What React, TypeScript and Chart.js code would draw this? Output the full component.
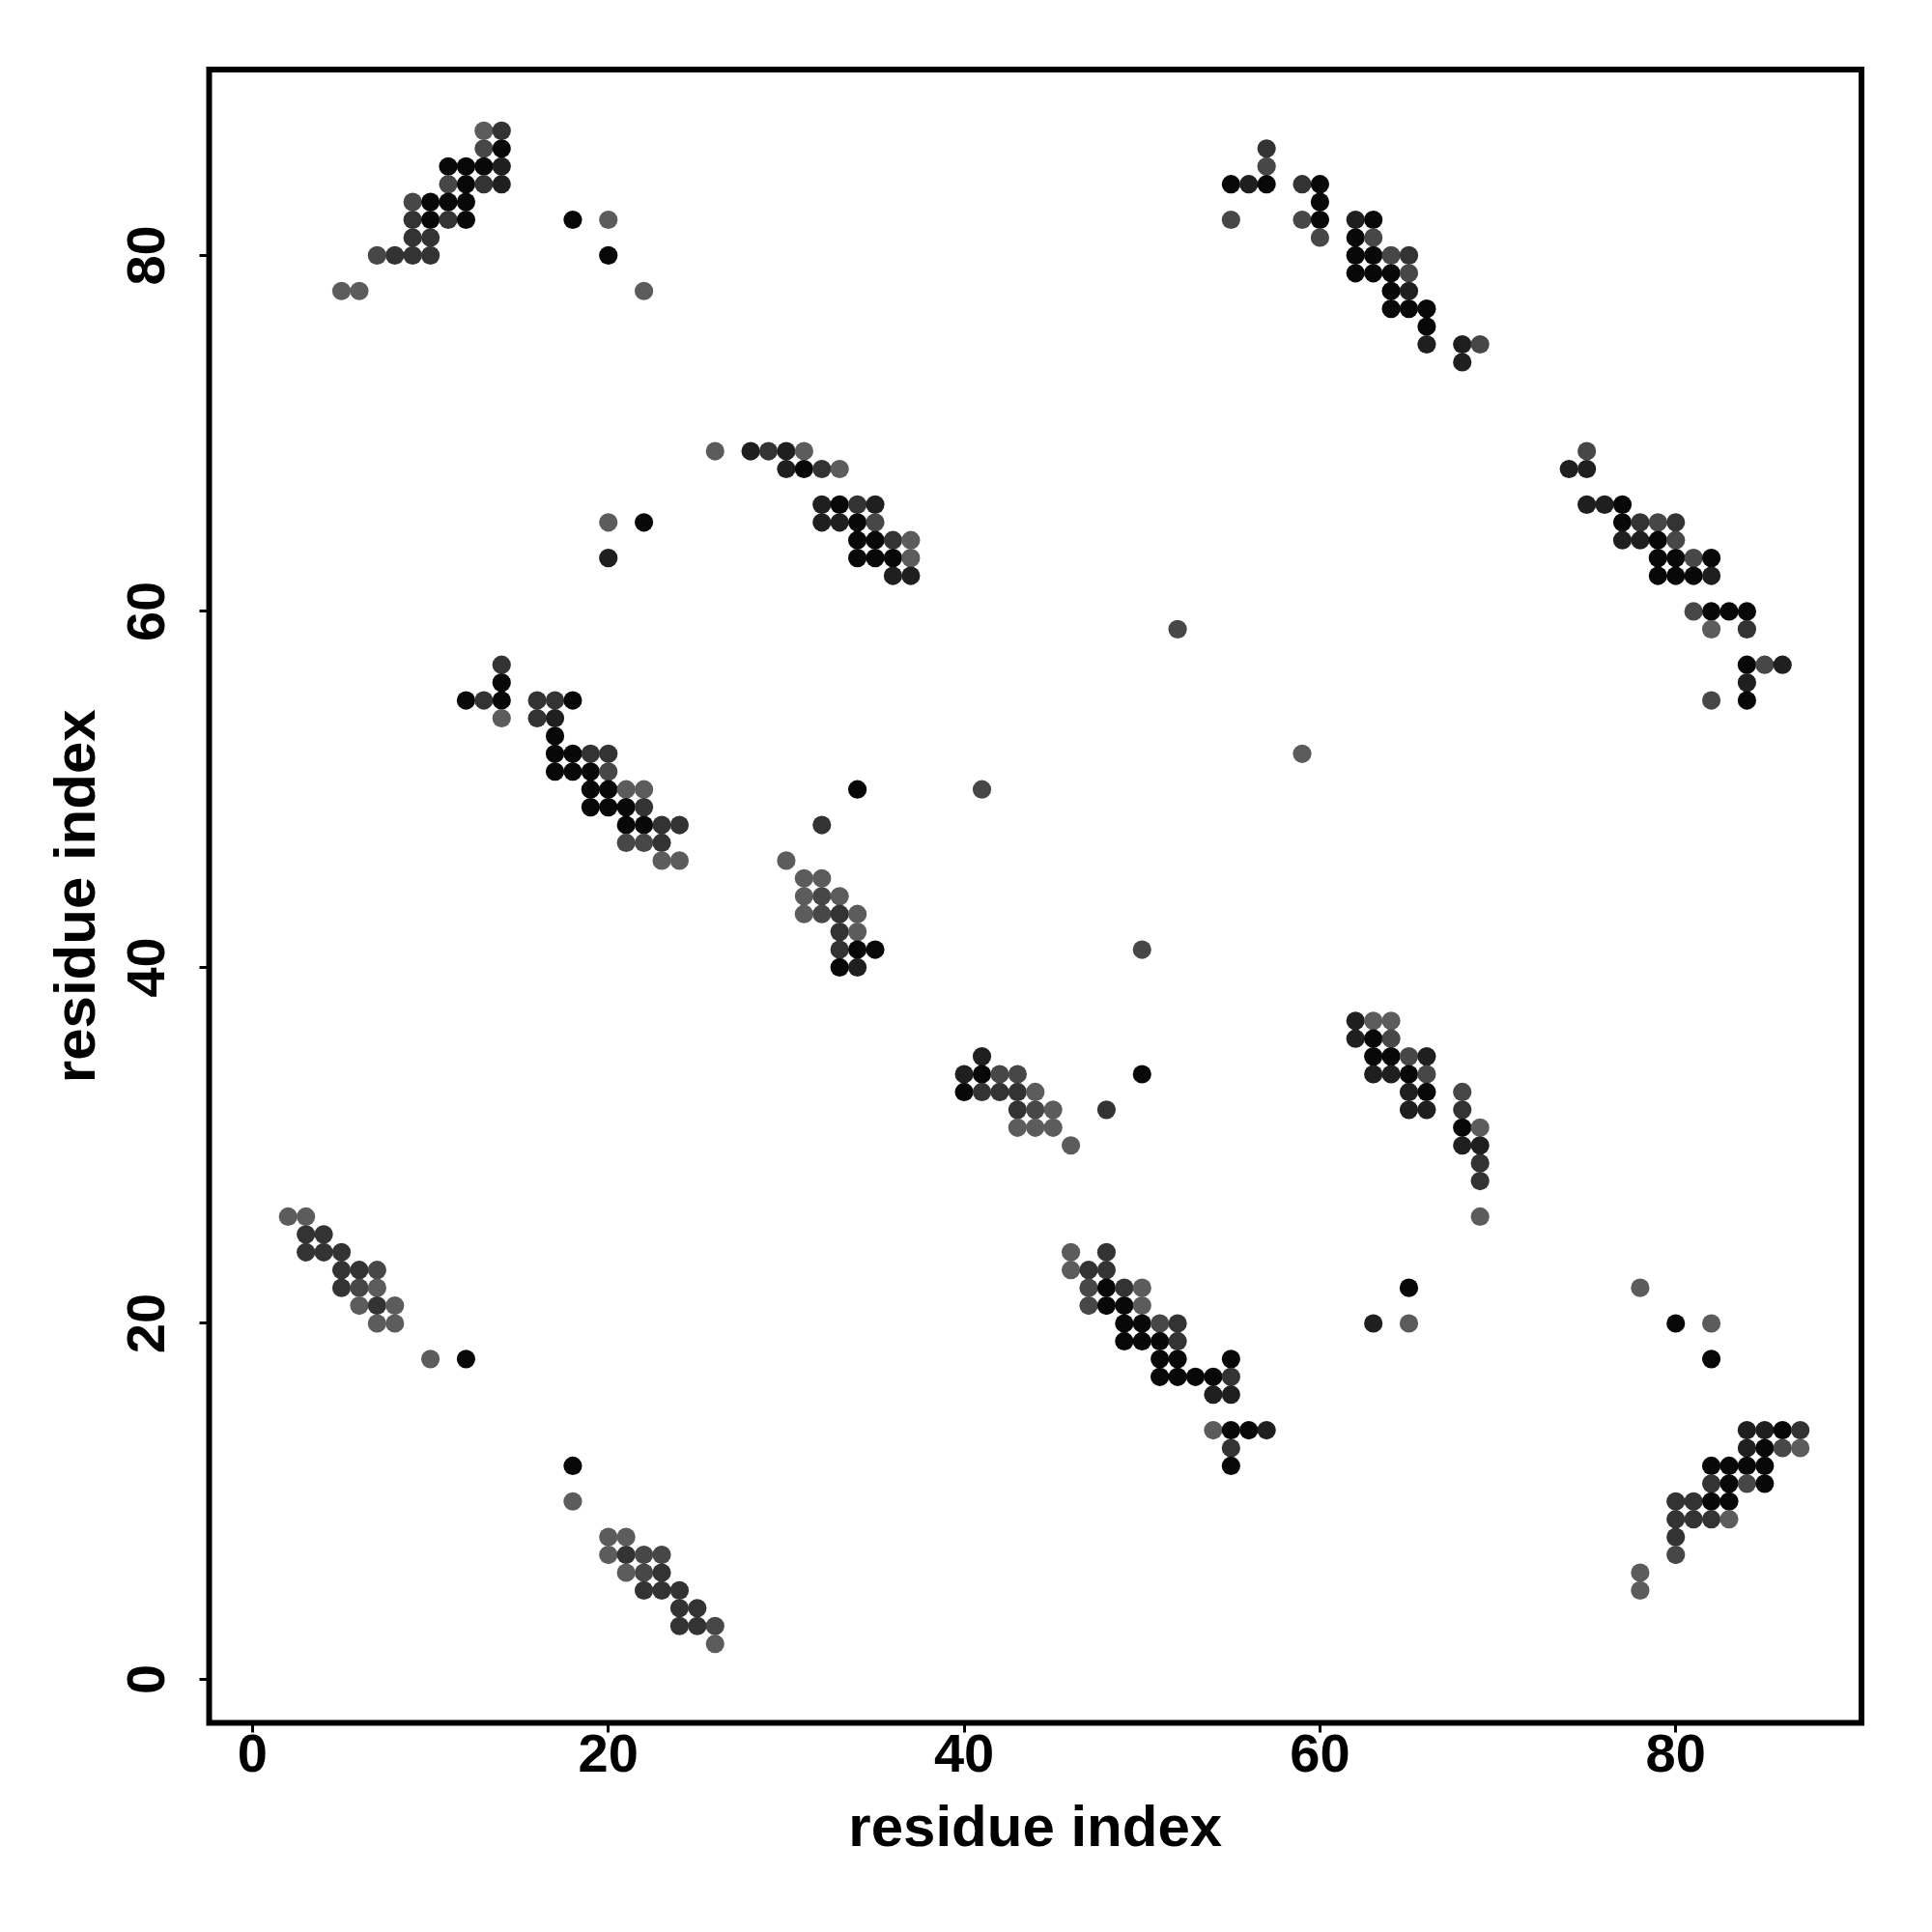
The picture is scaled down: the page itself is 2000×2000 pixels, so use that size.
import React, { useEffect, useRef } from 'react';
import { Chart, registerables } from 'chart.js';

Chart.register(...registerables);

// Contact map: residue i (x), residue j (y), contact level (0 = darkest ... 4 = lightest)
const residueX = [
  13, 14, 13, 14, 11, 12, 13, 14, 11, 12, 13, 14, 9, 10, 11, 12, 9, 10, 11, 12, 18, 20, 9, 10, 7, 8, 9, 10, 20, 5, 6, 22,
  57, 57, 55, 56, 57, 59, 60, 60, 55, 59, 60, 62, 63, 60, 62, 63, 62, 63, 64, 65, 62, 63, 64, 65, 64, 65, 64, 65, 66, 66, 66, 68, 69, 68,
  26, 28, 29, 30, 31, 30, 31, 32, 33, 32, 33, 34, 35, 20, 22, 32, 33, 34, 35, 34, 35, 36, 37, 20, 34, 35, 36, 37, 36, 37,
  75, 74, 75, 75, 76, 77, 77, 78, 79, 80, 77, 78, 79, 80, 79, 80, 81, 82, 79, 80, 81, 82, 81, 82, 83, 84, 82, 84, 84, 85, 86, 84, 82, 84,
  52, 59,
  14, 14, 12, 13, 14, 16, 17, 18, 14, 16, 17, 17, 17, 18, 19, 20, 17, 18, 19, 20, 19, 20, 21, 22, 19, 20, 21, 22, 21, 22, 23, 24, 21, 22, 23, 23, 24,
  34, 41, 32, 30, 31, 32, 31, 32, 33, 31, 32, 33, 34, 33, 34, 33, 34, 35, 50, 33, 34, 41, 40, 41, 42, 43, 50, 40, 41, 42, 43, 44, 43, 44, 45, 48, 43, 44, 45, 46,
  62, 63, 64, 62, 63, 64, 63, 64, 65, 66, 63, 64, 65, 66, 65, 66, 68, 65, 66, 68, 68, 69, 68, 69, 69, 69, 69,
  2, 3, 3, 4, 3, 4, 5, 5, 6, 7, 5, 6, 7, 6, 7, 8, 7, 8, 10, 12, 18, 18, 20, 21, 20, 21, 22, 23, 21, 22, 23, 22, 23, 24, 24, 25, 24, 25, 26, 26,
  46, 48, 46, 47, 48, 47, 48, 49, 50, 47, 48, 49, 50, 49, 50, 51, 52, 49, 50, 51, 52, 51, 52, 55, 51, 52, 53, 54, 55, 54, 55, 54, 55, 56, 57, 55, 55,
  63, 65, 65,
  78, 80, 82, 82, 84, 85, 86, 87, 84, 85, 86, 87, 82, 83, 84, 85, 82, 83, 84, 85, 80, 81, 82, 83, 80, 81, 82, 83, 80, 80, 78, 78,
];

const residueY = [
  87, 87, 86, 86, 85, 85, 85, 85, 84, 84, 84, 84, 83, 83, 83, 83, 82, 82, 82, 82, 82, 82, 81, 81, 80, 80, 80, 80, 80, 78, 78, 78,
  86, 85, 84, 84, 84, 84, 84, 83, 82, 82, 82, 82, 82, 81, 81, 81, 80, 80, 80, 80, 79, 79, 79, 79, 78, 78, 77, 77, 77, 76, 75, 75, 75, 74,
  69, 69, 69, 69, 69, 68, 68, 68, 68, 66, 66, 66, 66, 65, 65, 65, 65, 65, 65, 64, 64, 64, 64, 63, 63, 63, 63, 63, 62, 62,
  69, 68, 68, 66, 66, 66, 65, 65, 65, 65, 64, 64, 64, 64, 63, 63, 63, 63, 62, 62, 62, 62, 60, 60, 60, 60, 59, 59, 57, 57, 57, 56, 55, 55,
  59, 52,
  57, 56, 55, 55, 55, 55, 55, 55, 54, 54, 54, 53, 52, 52, 52, 52, 51, 51, 51, 51, 50, 50, 50, 50, 49, 49, 49, 49, 48, 48, 48, 48, 47, 47, 47, 46, 46,
  50, 50, 48, 46, 45, 45, 44, 44, 44, 43, 43, 43, 43, 42, 42, 41, 41, 41, 41, 40, 40, 35, 34, 34, 34, 34, 34, 33, 33, 33, 33, 33, 32, 32, 32, 32, 31, 31, 31, 30,
  37, 37, 37, 36, 36, 36, 35, 35, 35, 35, 34, 34, 34, 34, 33, 33, 33, 32, 32, 32, 31, 31, 30, 30, 29, 28, 26,
  26, 26, 25, 25, 24, 24, 24, 23, 23, 23, 22, 22, 22, 21, 21, 21, 20, 20, 18, 18, 12, 10, 8, 8, 7, 7, 7, 7, 6, 6, 6, 5, 5, 5, 4, 4, 3, 3, 3, 2,
  24, 24, 23, 23, 23, 22, 22, 22, 22, 21, 21, 21, 21, 20, 20, 20, 20, 19, 19, 19, 19, 18, 18, 18, 17, 17, 17, 17, 17, 16, 16, 14, 14, 14, 14, 13, 12,
  20, 22, 20,
  22, 20, 20, 18, 14, 14, 14, 14, 13, 13, 13, 13, 12, 12, 12, 12, 11, 11, 11, 11, 10, 10, 10, 10, 9, 9, 9, 9, 8, 7, 6, 5,
];

const contactLevel = [
  4, 2, 3, 0, 0, 0, 0, 1, 3, 0, 2, 1, 3, 0, 0, 0, 2, 0, 2, 0, 0, 4, 2, 2, 3, 2, 2, 2, 0, 4, 4, 4,
  2, 3, 0, 1, 0, 2, 0, 0, 3, 3, 0, 1, 0, 3, 0, 3, 0, 0, 3, 2, 0, 0, 0, 3, 0, 1, 0, 0, 0, 0, 1, 1, 3, 1,
  4, 1, 2, 1, 4, 1, 0, 2, 4, 1, 0, 2, 1, 4, 0, 1, 1, 0, 3, 0, 0, 2, 4, 1, 0, 0, 0, 4, 1, 1,
  3, 1, 1, 1, 1, 0, 0, 2, 3, 2, 1, 1, 0, 3, 0, 0, 3, 0, 0, 0, 0, 1, 3, 0, 0, 0, 4, 2, 0, 3, 1, 1, 3, 0,
  3, 4,
  2, 0, 0, 2, 0, 2, 2, 0, 4, 2, 1, 0, 0, 0, 2, 2, 0, 0, 0, 3, 0, 0, 4, 4, 0, 0, 0, 2, 0, 0, 2, 2, 3, 3, 2, 4, 4,
  0, 3, 2, 4, 4, 4, 4, 3, 4, 4, 3, 2, 4, 2, 4, 2, 0, 0, 3, 0, 1, 1, 1, 0, 3, 3, 0, 0, 2, 2, 2, 4, 2, 3, 4, 2, 4, 4, 4, 4,
  1, 4, 4, 1, 0, 3, 0, 0, 3, 1, 1, 1, 0, 3, 1, 0, 3, 1, 1, 2, 0, 4, 1, 1, 2, 2, 4,
  4, 4, 2, 2, 2, 2, 2, 2, 2, 3, 2, 3, 4, 4, 2, 4, 4, 4, 4, 0, 0, 4, 4, 4, 4, 2, 3, 3, 4, 3, 2, 2, 2, 2, 2, 2, 2, 2, 3, 4,
  4, 2, 4, 2, 2, 3, 0, 2, 4, 3, 0, 0, 4, 0, 0, 3, 2, 0, 0, 0, 2, 0, 0, 0, 0, 0, 0, 0, 2, 1, 1, 4, 0, 0, 1, 2, 0,
  1, 0, 4,
  4, 0, 4, 0, 1, 1, 0, 2, 1, 0, 3, 4, 0, 0, 0, 0, 2, 0, 3, 0, 2, 2, 0, 0, 2, 2, 2, 4, 2, 3, 4, 4,
];

const levelGrays = ['#080808', '#1f1f1f', '#333333', '#474747', '#5c5c5c'];
const tickValues = [0, 20, 40, 60, 80];
const axisTitle = 'residue index';
const axisMin = -2.44;
const axisMax = 90.44;

const FONT = "'Liberation Sans', Arial, Helvetica, sans-serif";

export default function App() {
  const ref = useRef<HTMLCanvasElement | null>(null);

  useEffect(() => {
    const canvas = ref.current;
    if (!canvas) return;

    const boxPlugin = {
      id: 'boxAndYLabels',
      afterDraw(chart: any) {
        const { ctx, chartArea: a } = chart;
        ctx.save();
        ctx.strokeStyle = '#000';
        ctx.lineWidth = 6;
        ctx.strokeRect(a.left, a.top, a.right - a.left, a.bottom - a.top);
        const ys = chart.scales.y;
        ctx.fillStyle = '#000';
        ctx.font = `bold 56px ${FONT}`;
        ctx.textAlign = 'center';
        ctx.textBaseline = 'alphabetic';
        for (const v of tickValues) {
          const py = ys.getPixelForValue(v);
          ctx.save();
          ctx.translate(170, py);
          ctx.rotate(-Math.PI / 2);
          ctx.fillText(String(v), 0, 0);
          ctx.restore();
        }
        ctx.restore();
      },
    };

    const chart = new Chart(canvas, {
      type: 'scatter',
      data: {
        datasets: [
          {
            data: residueX.map((x, i) => ({ x, y: residueY[i] })),
            backgroundColor: contactLevel.map((l) => levelGrays[l]),
            pointBackgroundColor: contactLevel.map((l) => levelGrays[l]),
            pointRadius: 9.6,
            pointHoverRadius: 9.6,
            pointBorderWidth: 0,
            borderWidth: 0,
          },
        ],
      },
      options: {
        animation: false,
        responsive: false,
        devicePixelRatio: 1,
        events: [],
        layout: { padding: { top: 72, right: 73, left: 0, bottom: 0 } },
        plugins: { legend: { display: false }, tooltip: { enabled: false } },
        scales: {
          x: {
            type: 'linear',
            position: 'bottom',
            min: axisMin,
            max: axisMax,
            afterBuildTicks: (s: any) => {
              s.ticks = tickValues.map((v) => ({ value: v }));
            },
            afterFit: (s: any) => {
              s.height = 216.5;
            },
            grid: { drawOnChartArea: false, drawTicks: true, tickLength: 10, lineWidth: 3, color: '#000' },
            border: { display: false },
            ticks: {
              color: '#000',
              font: { family: FONT, size: 56, weight: 'bold', lineHeight: 1 },
              padding: -3,
              maxRotation: 0,
              autoSkip: false,
            },
            title: {
              display: true,
              text: axisTitle,
              color: '#000',
              font: { family: FONT, size: 60, weight: 'bold', lineHeight: 1 },
              padding: { top: 0, bottom: 76 },
            },
          },
          y: {
            type: 'linear',
            position: 'left',
            min: axisMin,
            max: axisMax,
            afterBuildTicks: (s: any) => {
              s.ticks = tickValues.map((v) => ({ value: v }));
            },
            afterFit: (s: any) => {
              s.width = 216.5;
            },
            grid: { drawOnChartArea: false, drawTicks: true, tickLength: 10, lineWidth: 3, color: '#000' },
            border: { display: false },
            ticks: { display: false },
            title: {
              display: true,
              text: axisTitle,
              color: '#000',
              font: { family: FONT, size: 60, weight: 'bold', lineHeight: 1 },
              padding: { top: 51, bottom: 0 },
            },
          },
        },
      },
      plugins: [boxPlugin],
    } as any);

    return () => chart.destroy();
  }, []);

  return (
    <div style={{ position: 'absolute', left: 0, top: 0, width: 2000, height: 2000, background: '#fff' }}>
      <canvas ref={ref} width={2000} height={2000} style={{ display: 'block', width: 2000, height: 2000 }} />
    </div>
  );
}
